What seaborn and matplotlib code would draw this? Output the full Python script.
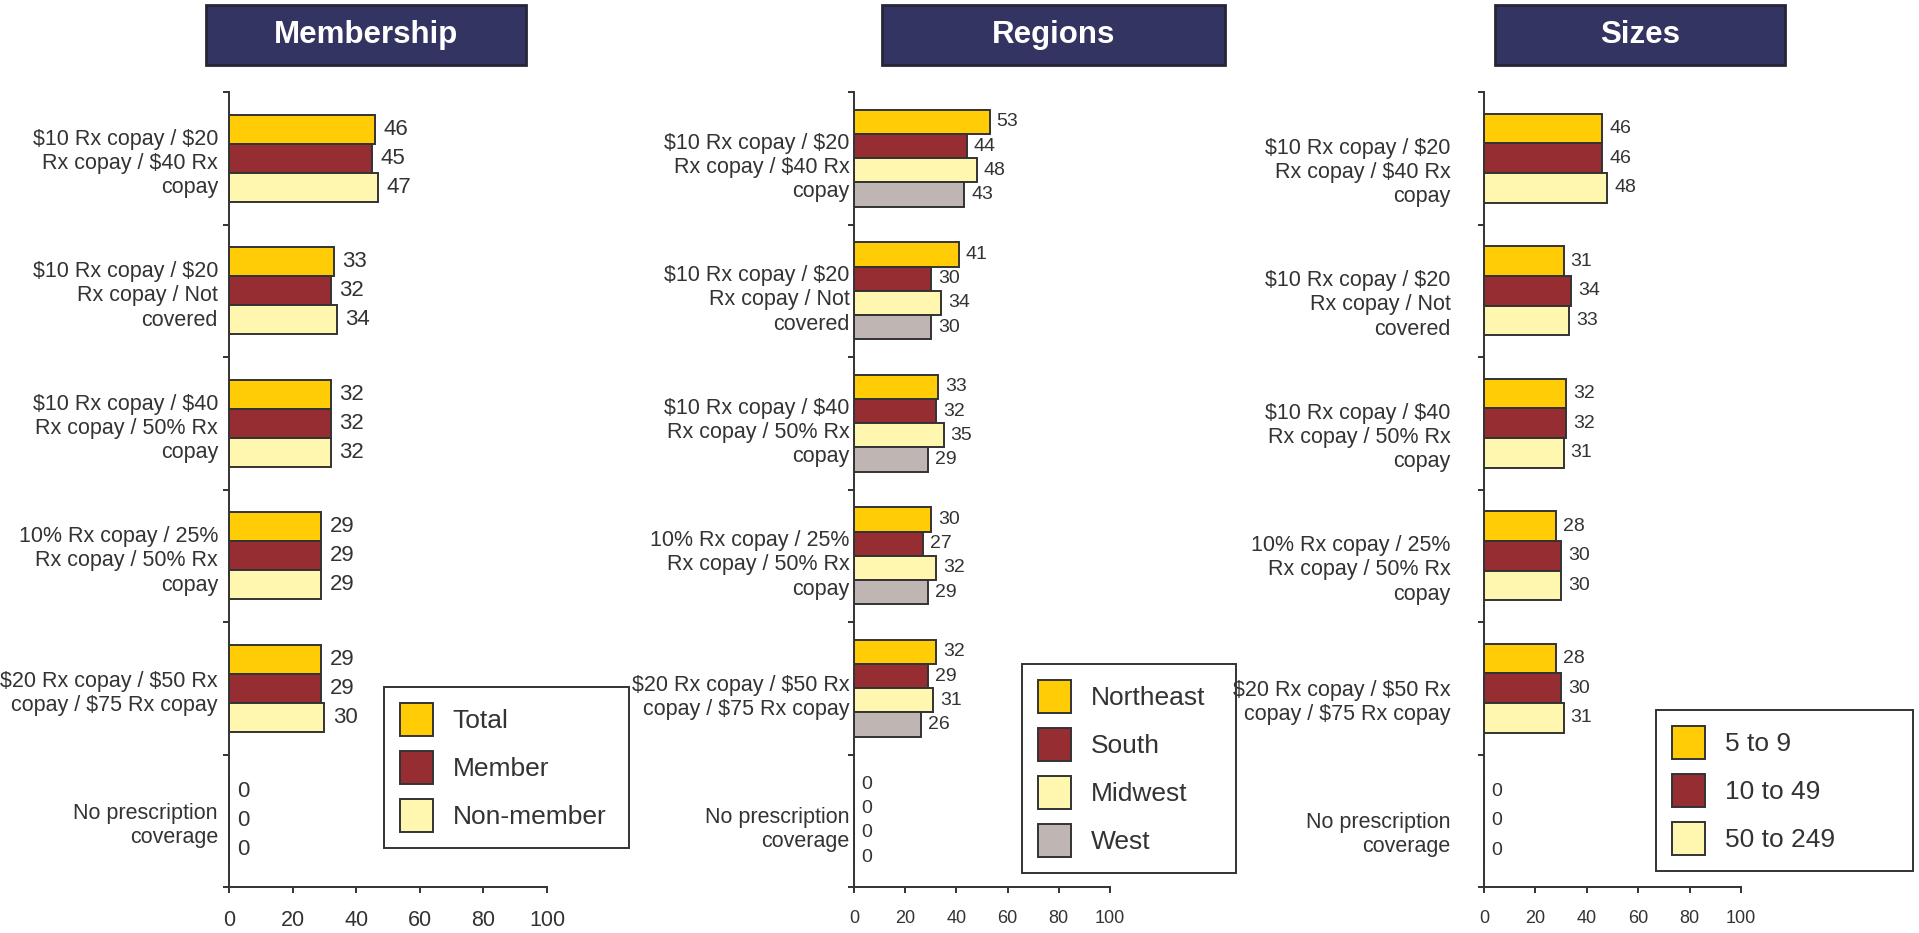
import numpy as np
import pandas as pd
import matplotlib.pyplot as plt
from matplotlib.patches import Rectangle
from matplotlib.transforms import ScaledTranslation
import seaborn as sns

sns.set_style("white")
plt.rcParams['font.family'] = ['Liberation Sans', 'DejaVu Sans']

# categories (y axis) - "\$" keeps the dollar signs out of mathtext
categories = [
    "\\$10 Rx copay / \\$20\nRx copay / \\$40 Rx\ncopay",
    "\\$10 Rx copay / \\$20\nRx copay / Not\ncovered",
    "\\$10 Rx copay / \\$40\nRx copay / 50% Rx\ncopay",
    "10% Rx copay / 25%\nRx copay / 50% Rx\ncopay",
    "\\$20 Rx copay / \\$50 Rx\ncopay / \\$75 Rx copay",
    "No prescription\ncoverage",
]

membership_groups = ["Total", "Member", "Non-member"]
total = [46, 33, 32, 29, 29, 0]
member = [45, 32, 32, 29, 29, 0]
non_member = [47, 34, 32, 29, 30, 0]

region_groups = ["Northeast", "South", "Midwest", "West"]
northeast = [53, 41, 33, 30, 32, 0]
south = [44, 30, 32, 27, 29, 0]
midwest = [48, 34, 35, 32, 31, 0]
west = [43, 30, 29, 29, 26, 0]

size_groups = ["5 to 9", "10 to 49", "50 to 249"]
size_5_9 = [46, 31, 32, 28, 28, 0]
size_10_49 = [46, 34, 32, 30, 30, 0]
size_50_249 = [48, 33, 31, 30, 31, 0]

colors = ["#FFCC05", "#952D33", "#FFF7AF", "#BFB5B3"]
dark = "#333333"

W, H = 1919, 933
fig = plt.figure(figsize=(W / 100, H / 100), dpi=100)


def px(x0, y0, x1, y1):
    # pixel box (top-left origin) -> figure fraction rect
    return [x0 / W, 1 - y1 / H, (x1 - x0) / W, (y1 - y0) / H]


def draw_panel(rect, title, title_box, groups, series, width, value_size,
               tick_size, label_pad, label_shift, legend_box, value_pad):
    ax = fig.add_axes(rect)
    df = pd.DataFrame({
        "category": np.tile(categories, len(groups)),
        "group": np.repeat(groups, len(categories)),
        "value": np.concatenate(series),
    })
    sns.barplot(data=df, y="category", x="value", hue="group", orient="h",
                palette=colors[:len(groups)], width=width, saturation=1,
                edgecolor=dark, linewidth=1.4, errorbar=None, ax=ax)
    for c in ax.containers:
        ax.bar_label(c, padding=value_pad, fontsize=value_size, color=dark)

    ax.set_xlim(0, 100)
    ax.set_ylim(5.5, -0.5)
    ax.set_xticks(range(0, 101, 20))
    ax.set_xlabel("")
    ax.set_ylabel("")
    ax.set_yticks(np.arange(-0.5, 6), minor=True)
    ax.tick_params(axis="y", which="major", left=True, length=0,
                   pad=label_pad, labelsize=15.5, labelcolor=dark)
    ax.tick_params(axis="y", which="minor", left=True, length=4.5,
                   width=1.4, color=dark, direction="out")
    ax.tick_params(axis="x", bottom=True, length=4.5, width=1.4, color=dark,
                   direction="out", pad=12, labelsize=tick_size, labelcolor=dark)
    shift = ScaledTranslation(0, -label_shift / 100, fig.dpi_scale_trans)
    for lab in ax.get_yticklabels():
        lab.set_transform(lab.get_transform() + shift)
    sns.despine(ax=ax)
    for s in ("left", "bottom"):
        ax.spines[s].set_color(dark)
        ax.spines[s].set_linewidth(1.4)

    x0, y0, x1, y1 = legend_box
    r = px(x0, y0, x1, y1)
    leg = ax.legend(loc="upper left", bbox_to_anchor=(r[0], r[1], r[2], r[3]),
                    bbox_transform=fig.transFigure, mode="expand",
                    borderaxespad=0, fontsize=19, handlelength=1.25,
                    handleheight=1.55, handletextpad=0.75, labelspacing=0.57,
                    borderpad=0.6, fancybox=False, framealpha=1)
    leg.get_frame().set_edgecolor(dark)
    leg.get_frame().set_linewidth(1.4)
    for t in leg.get_texts():
        t.set_color(dark)

    bx0, by0, bx1, by1 = title_box
    b = px(bx0, by0, bx1, by1)
    fig.patches.append(Rectangle((b[0], b[1]), b[2], b[3],
                                 transform=fig.transFigure,
                                 facecolor="#343462", edgecolor="#262638",
                                 linewidth=2))
    fig.text(b[0] + b[2] / 2, b[1] + b[3] / 2, title, color="white",
             fontsize=22.5, fontweight="bold", ha="center", va="center")
    return ax


draw_panel(px(229, 92, 547, 887), "Membership", (206, 5, 526, 65),
           membership_groups, [total, member, non_member], 0.66, 16, 15.5, 8, 1,
           (384, 687, 629, 847), 6)
draw_panel(px(854, 92, 1110, 887), "Regions", (882, 5, 1225, 65),
           region_groups, [northeast, south, midwest, west], 0.73, 14, 13, 3, 5,
           (1022, 664, 1236, 873), 5)
draw_panel(px(1484, 92, 1741, 887), "Sizes", (1495, 5, 1785, 65),
           size_groups, [size_5_9, size_10_49, size_50_249], 0.67, 14, 13, 24, 10,
           (1656, 710, 1913, 873), 5)

fig.savefig("out.png", dpi=100, facecolor="white")
